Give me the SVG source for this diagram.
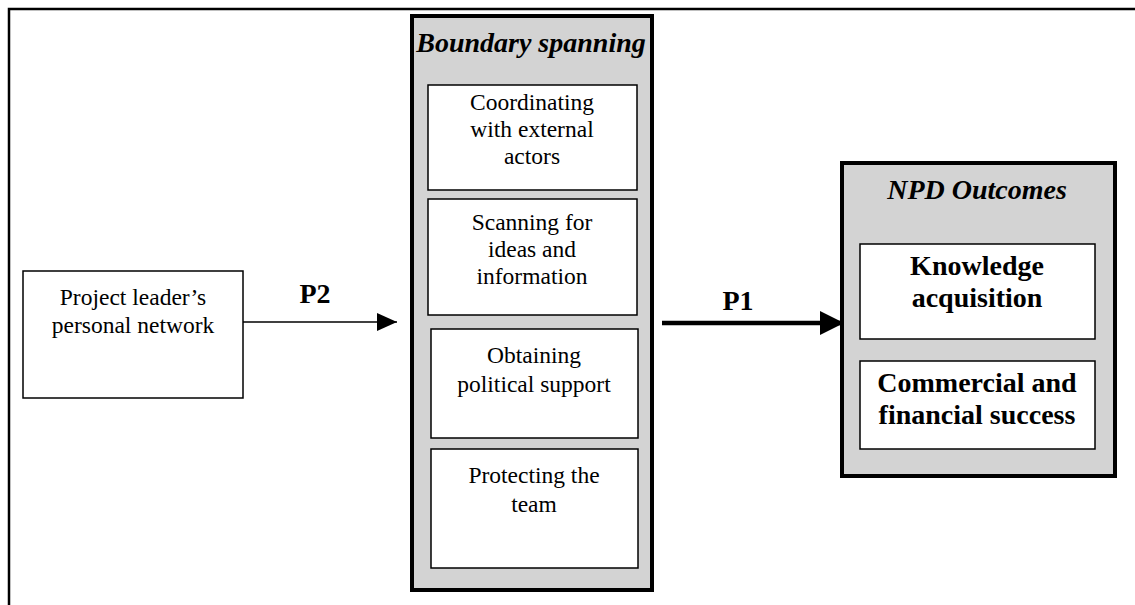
<svg xmlns="http://www.w3.org/2000/svg" width="1135" height="605" viewBox="0 0 1135 605">
<style>
.frame{fill:none;stroke:#000;stroke-width:2.5}
.outer{fill:#d3d3d3;stroke:#000;stroke-width:4}
.inner{fill:#fff;stroke:#000;stroke-width:1.5}
.t{font-family:"Liberation Serif","Times New Roman",serif;font-size:23.5px;text-anchor:middle;fill:#000}
.b{font-family:"Liberation Serif","Times New Roman",serif;font-size:28px;font-weight:bold;text-anchor:middle;fill:#000}
.bi{font-family:"Liberation Serif","Times New Roman",serif;font-size:28px;font-weight:bold;font-style:italic;text-anchor:middle;fill:#000}
</style>
<defs>
<marker id="ah" viewBox="0 0 10 10" refX="10" refY="5" markerWidth="20" markerHeight="18" markerUnits="userSpaceOnUse" orient="auto" preserveAspectRatio="none"><path d="M0,0L10,5L0,10z" fill="#000"/></marker>
<marker id="ah2" viewBox="0 0 10 10" refX="10" refY="5" markerWidth="24" markerHeight="24" markerUnits="userSpaceOnUse" orient="auto" preserveAspectRatio="none"><path d="M0,0L10,5L0,10z" fill="#000"/></marker>
</defs>
<rect x="0" y="0" width="1135" height="605" fill="#fff"/>
<path class="frame" d="M9,610V9H1140"/>
<g id="network">
<rect class="inner" x="23" y="271" width="220" height="127"/>
<text class="t" x="133" y="305">Project leader’s</text>
<text class="t" x="133" y="333">personal network</text>
</g>
<g id="boundary">
<rect class="outer" x="412" y="16" width="240" height="574"/>
<text class="bi" x="531" y="52">Boundary spanning</text>
</g>
<g id="coordinating">
<rect class="inner" x="428" y="85" width="209" height="105"/>
<text class="t" x="532" y="110">Coordinating</text>
<text class="t" x="532" y="137">with external</text>
<text class="t" x="532" y="164">actors</text>
</g>
<g id="scanning">
<rect class="inner" x="428" y="199" width="209" height="116"/>
<text class="t" x="532" y="230">Scanning for</text>
<text class="t" x="532" y="257">ideas and</text>
<text class="t" x="532" y="284">information</text>
</g>
<g id="political">
<rect class="inner" x="431" y="329" width="207" height="109"/>
<text class="t" x="534" y="363">Obtaining</text>
<text class="t" x="534" y="392">political support</text>
</g>
<g id="protecting">
<rect class="inner" x="431" y="449" width="207" height="119"/>
<text class="t" x="534" y="483">Protecting the</text>
<text class="t" x="534" y="512">team</text>
</g>
<g id="npd">
<rect class="outer" x="842" y="163" width="273" height="313"/>
<text class="bi" x="977" y="199">NPD Outcomes</text>
</g>
<g id="knowledge">
<rect class="inner" x="860" y="244" width="235" height="95"/>
<text class="b" x="977" y="275">Knowledge</text>
<text class="b" x="977" y="307">acquisition</text>
</g>
<g id="commercial">
<rect class="inner" x="860" y="361" width="235" height="88"/>
<text class="b" x="977" y="392">Commercial and</text>
<text class="b" x="977" y="424">financial success</text>
</g>
<g id="connectors">
<line x1="243" y1="322" x2="397" y2="322" stroke="#000" stroke-width="1.5" marker-end="url(#ah)"/>
<text class="b" x="315" y="303">P2</text>
<line x1="662" y1="323" x2="844" y2="323" stroke="#000" stroke-width="4.5" marker-end="url(#ah2)"/>
<text class="b" x="738" y="310">P1</text>
</g>
</svg>
